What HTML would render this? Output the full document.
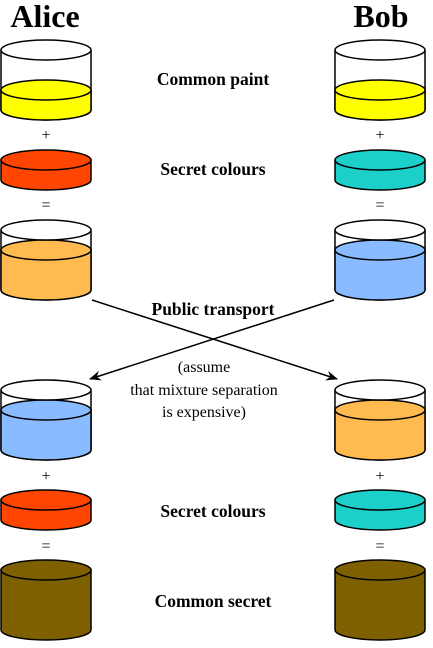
<!DOCTYPE html>
<html><head><meta charset="utf-8"><style>
html,body{margin:0;padding:0;background:#fff}
svg{display:block}
</style></head><body>
<svg width="433" height="648" viewBox="0 0 433 648" xmlns="http://www.w3.org/2000/svg" stroke="#000" stroke-width="1.5">
<defs>
<marker id="ah" markerWidth="12" markerHeight="10" refX="11" refY="5" orient="auto" markerUnits="userSpaceOnUse">
<path d="M0,0 L12,5 L0,10 L4,5 Z" fill="#000" stroke="none"/>
</marker>
</defs>
<g stroke="none" fill="#000" font-family="'Liberation Serif', 'Times New Roman', serif" style="font-family:'Liberation Serif','Times New Roman',serif">
<text x="45" y="27" text-anchor="middle" font-weight="bold" font-size="32">Alice</text>
<text x="381" y="27" text-anchor="middle" font-weight="bold" font-size="32">Bob</text>
<g font-weight="bold" font-size="17.5" text-anchor="middle">
<text x="213" y="85">Common paint</text>
<text x="213" y="175">Secret colours</text>
<text x="213" y="315">Public transport</text>
<text x="213" y="517">Secret colours</text>
<text x="213" y="607">Common secret</text>
</g>
<g font-size="16" text-anchor="middle">
<text x="204" y="372">(assume</text>
<text x="204" y="395">that mixture separation</text>
<text x="204" y="417">is expensive)</text>
<text x="46" y="140">+</text>
<text x="46" y="210">=</text>
<text x="380" y="140">+</text>
<text x="380" y="210">=</text>
<text x="46" y="481">+</text>
<text x="46" y="551">=</text>
<text x="380" y="481">+</text>
<text x="380" y="551">=</text>
</g>
</g>
<line x1="92" y1="300" x2="337" y2="379" marker-end="url(#ah)"/>
<line x1="334" y1="300" x2="90" y2="379" marker-end="url(#ah)"/>
<g transform="translate(46,0)">
<path d="M-45,50 V110 A45,10 0 0 0 45,110 V50" fill="#fff"/>
<path d="M-45,90 V110 A45,10 0 0 0 45,110 V90 Z" fill="#ffff00"/>
<ellipse cx="0" cy="90" rx="45" ry="10" fill="#ffff00"/>
<ellipse cx="0" cy="50" rx="45" ry="10" fill="#fff"/>
<path d="M-45,160 V180 A45,10 0 0 0 45,180 V160 Z" fill="#ff4500"/>
<ellipse cx="0" cy="160" rx="45" ry="10" fill="#ff4500"/>
<path d="M-45,230 V290 A45,10 0 0 0 45,290 V230" fill="#fff"/>
<path d="M-45,250 V290 A45,10 0 0 0 45,290 V250 Z" fill="#ffbb50"/>
<ellipse cx="0" cy="250" rx="45" ry="10" fill="#ffbb50"/>
<ellipse cx="0" cy="230" rx="45" ry="10" fill="#fff"/>
<path d="M-45,390 V450 A45,10 0 0 0 45,450 V390" fill="#fff"/>
<path d="M-45,410 V450 A45,10 0 0 0 45,450 V410 Z" fill="#88bbff"/>
<ellipse cx="0" cy="410" rx="45" ry="10" fill="#88bbff"/>
<ellipse cx="0" cy="390" rx="45" ry="10" fill="#fff"/>
<path d="M-45,500 V520 A45,10 0 0 0 45,520 V500 Z" fill="#ff4500"/>
<ellipse cx="0" cy="500" rx="45" ry="10" fill="#ff4500"/>
<path d="M-45,570 V630 A45,10 0 0 0 45,630 V570 Z" fill="#7f6000"/>
<ellipse cx="0" cy="570" rx="45" ry="10" fill="#7f6000"/>
</g>
<g transform="translate(380,0)">
<path d="M-45,50 V110 A45,10 0 0 0 45,110 V50" fill="#fff"/>
<path d="M-45,90 V110 A45,10 0 0 0 45,110 V90 Z" fill="#ffff00"/>
<ellipse cx="0" cy="90" rx="45" ry="10" fill="#ffff00"/>
<ellipse cx="0" cy="50" rx="45" ry="10" fill="#fff"/>
<path d="M-45,160 V180 A45,10 0 0 0 45,180 V160 Z" fill="#1ccfc9"/>
<ellipse cx="0" cy="160" rx="45" ry="10" fill="#1ccfc9"/>
<path d="M-45,230 V290 A45,10 0 0 0 45,290 V230" fill="#fff"/>
<path d="M-45,250 V290 A45,10 0 0 0 45,290 V250 Z" fill="#88bbff"/>
<ellipse cx="0" cy="250" rx="45" ry="10" fill="#88bbff"/>
<ellipse cx="0" cy="230" rx="45" ry="10" fill="#fff"/>
<path d="M-45,390 V450 A45,10 0 0 0 45,450 V390" fill="#fff"/>
<path d="M-45,410 V450 A45,10 0 0 0 45,450 V410 Z" fill="#ffbb50"/>
<ellipse cx="0" cy="410" rx="45" ry="10" fill="#ffbb50"/>
<ellipse cx="0" cy="390" rx="45" ry="10" fill="#fff"/>
<path d="M-45,500 V520 A45,10 0 0 0 45,520 V500 Z" fill="#1ccfc9"/>
<ellipse cx="0" cy="500" rx="45" ry="10" fill="#1ccfc9"/>
<path d="M-45,570 V630 A45,10 0 0 0 45,630 V570 Z" fill="#7f6000"/>
<ellipse cx="0" cy="570" rx="45" ry="10" fill="#7f6000"/>
</g>
</svg>
</body></html>
